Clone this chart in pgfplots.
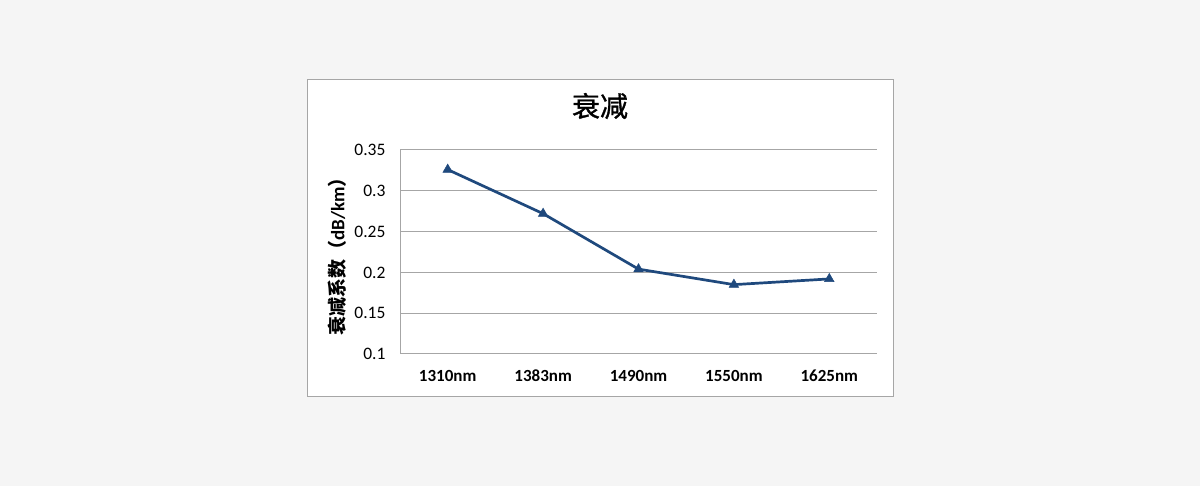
\documentclass[border=0pt]{standalone}
\usepackage{fontspec}
\setmainfont{Carlito}[Numbers=Lining]
\newfontfamily\cjk{Noto Sans CJK SC}
\newfontfamily\cjktitle{Noto Sans CJK SC}[FakeBold=1.2]
\usepackage{pgfplots}
\pgfplotsset{compat=1.18}
\definecolor{bg}{HTML}{F5F5F5}
\definecolor{linec}{HTML}{1F497D}
\definecolor{gridc}{HTML}{A6A6A6}
\begin{document}
\begin{tikzpicture}[x=1pt,y=1pt]
\fill[bg] (0,0) rectangle (1200,486);
\filldraw[fill=white, draw=gridc, line width=1pt] (307,89) rectangle (893,406);
\node[font=\cjktitle\fontsize{28}{30}\selectfont] at (600,380) {衰减};
\begin{axis}[at={(400pt,132pt)}, anchor=south west, scale only axis,
  width=477pt, height=204pt,
  xmin=-0.5, xmax=4.5, ymin=0.1, ymax=0.35,
  xtick={0,1,2,3,4},
  xticklabels={1310nm,1383nm,1490nm,1550nm,1625nm},
  ytick={0.1,0.15,0.2,0.25,0.3,0.35},
  yticklabels={0.1,0.15,0.2,0.25,0.3,0.35},
  axis x line*=bottom, axis y line*=left,
  axis line style={draw=gridc, line width=1pt, -},
  major tick length=0pt,
  ymajorgrids, grid style={draw=gridc, line width=1pt},
  xticklabel style={font=\bfseries\fontsize{17}{18}\selectfont, text height=11pt, text depth=0pt, yshift=-13pt},
  yticklabel style={font=\fontsize{17.5}{18}\selectfont, xshift=-11pt},
  clip=false]
\addplot[linec, line width=2.7pt, mark=triangle*, mark size=5.5pt,
  mark options={solid, line width=0.5pt, fill=linec}]
  coordinates {(0,0.326)(1,0.272)(2,0.204)(3,0.185)(4,0.192)};
\end{axis}
\node[rotate=90, font=\bfseries\fontsize{19}{20}\selectfont] at (337,234)
  {{\cjk\bfseries 衰减系数（}dB/km{\cjk\bfseries ）}};
\end{tikzpicture}
\end{document}
